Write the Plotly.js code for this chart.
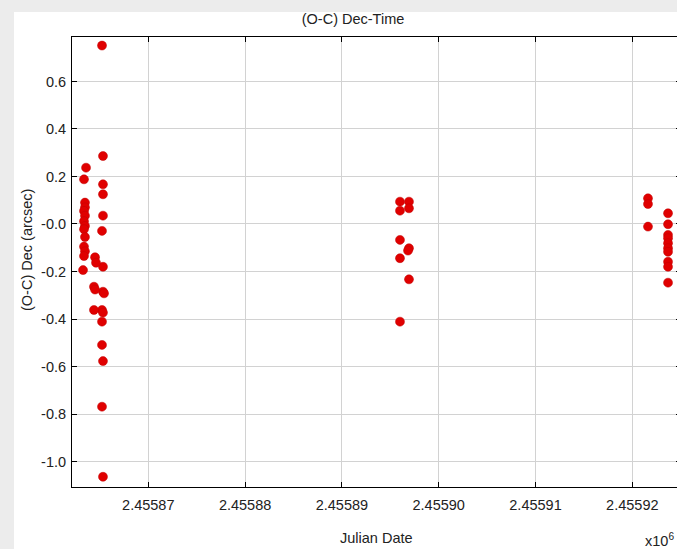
<!DOCTYPE html>
<html>
<head>
<meta charset="utf-8">
<script src="https://cdn.plot.ly/plotly-3.0.1.min.js"></script>
<style>
  html, body { margin:0; padding:0; width:677px; height:549px; overflow:hidden; background:#ececec; }
  #panel { position:absolute; left:14px; top:12px; width:700px; height:560px; background:#ffffff; }
  #chart { position:absolute; left:0; top:0; width:700px; height:549px; }
</style>
</head>
<body>
<div id="panel"></div>
<div id="chart"></div>
<script>
// Julian Date of each observation
const julianDate = [
  // first night cluster
  2455865.22, 2455865.32, 2455865.32, 2455865.32, 2455865.32, 2455865.22,
  2455865.32, 2455865.32, 2455865.43, 2455865.22, 2455865.32, 2455865.22,
  2455865.22, 2455865.32, 2455865.22, 2455865.32,
  2455863.57, 2455863.36, 2455863.46, 2455863.46, 2455863.36, 2455863.46,
  2455863.36, 2455863.46, 2455863.36, 2455863.46, 2455863.36, 2455863.46,
  2455863.36, 2455863.26,
  2455864.50, 2455864.60, 2455864.39, 2455864.50, 2455864.39,
  // second cluster
  2455896.00, 2455896.93, 2455896.00, 2455896.93, 2455896.00, 2455896.93,
  2455896.83, 2455896.00, 2455896.93, 2455896.00,
  // third cluster
  2455921.62, 2455921.62, 2455921.62,
  2455923.69, 2455923.69, 2455923.69, 2455923.69, 2455923.69, 2455923.69,
  2455923.69, 2455923.69, 2455923.69, 2455923.69
];
// (O-C) Dec residual, arcsec
const ocDec = [
  0.751, 0.286, 0.167, 0.125, 0.035, -0.029,
  -0.180, -0.285, -0.292, -0.362, -0.373, -0.411,
  -0.509, -0.577, -0.769, -1.064,
  0.237, 0.188, 0.090, 0.070, 0.055, 0.035,
  0.012, -0.008, -0.022, -0.055, -0.095, -0.115,
  -0.135, -0.194,
  -0.140, -0.163, -0.264, -0.276, -0.362,
  0.094, 0.094, 0.056, 0.066, -0.067, -0.102,
  -0.112, -0.144, -0.233, -0.411,
  0.108, 0.084, -0.011,
  0.045, -0.001, -0.046, -0.060, -0.081, -0.102,
  -0.117, -0.159, -0.180, -0.247
];
const xTickVals = [2455870, 2455880, 2455890, 2455900, 2455910, 2455920];
const xTickText = xTickVals.map(v => (v / 1e6).toFixed(5));
const yTickVals = [0.6, 0.4, 0.2, 0.0, -0.2, -0.4, -0.6, -0.8, -1.0];
const yTickText = ['0.6', '0.4', '0.2', '-0.0', '-0.2', '-0.4', '-0.6', '-0.8', '-1.0'];

const font = 'Liberation Sans, Arial, sans-serif';
const fs = 14.5;

const trace = {
  type: 'scatter', mode: 'markers',
  x: julianDate, y: ocDec,
  marker: { color: '#e00000', size: 9, line: { color: '#c00000', width: 0.5 } },
  hoverinfo: 'skip'
};

const axisCommon = {
  showline: true, linecolor: '#000', linewidth: 1, mirror: 'ticks',
  ticks: 'inside', ticklen: 5, tickcolor: '#000', tickwidth: 1,
  showgrid: true, gridcolor: '#d2d2d2', gridwidth: 1, zeroline: false,
  tickfont: { family: font, size: fs, color: '#222' }
};

const layout = {
  width: 700, height: 549,
  margin: { l: 72, r: 19, t: 37, b: 62, pad: 0 },
  paper_bgcolor: 'rgba(0,0,0,0)', plot_bgcolor: '#ffffff',
  showlegend: false,
  title: { text: '(O-C) Dec-Time', xref: 'container', yref: 'container',
           x: 353 / 700, y: 1 - 19 / 549, xanchor: 'center', yanchor: 'middle',
           font: { family: font, size: fs, color: '#222' } },
  xaxis: Object.assign({}, axisCommon, {
    range: [2455862.12, 2455925.03],
    tickmode: 'array', tickvals: xTickVals, ticktext: xTickText,
    ticklabelstandoff: 5
  }),
  yaxis: Object.assign({}, axisCommon, {
    range: [-1.107, 0.787],
    tickmode: 'array', tickvals: yTickVals, ticktext: yTickText,
    ticklabelstandoff: 2
  }),
  annotations: [
    { text: 'Julian Date', xref: 'paper', yref: 'paper', x: (376 - 72) / 609, y: (487 - 538) / 450,
      xanchor: 'center', yanchor: 'middle', showarrow: false,
      font: { family: font, size: fs, color: '#222' } },
    { text: 'x10<sup>6</sup>', xref: 'paper', yref: 'paper', x: (643 - 72) / 609, y: (487 - 540) / 450,
      xanchor: 'left', yanchor: 'middle', showarrow: false,
      font: { family: font, size: fs, color: '#222' } },
    { text: '(O-C) Dec (arcsec)', xref: 'paper', yref: 'paper', x: (27 - 72) / 609, y: (487 - 250) / 450,
      xanchor: 'center', yanchor: 'middle', textangle: -90, showarrow: false,
      font: { family: font, size: fs, color: '#222' } }
  ]
};

Plotly.newPlot('chart', [trace], layout, { displayModeBar: false, staticPlot: true });
</script>
</body>
</html>
